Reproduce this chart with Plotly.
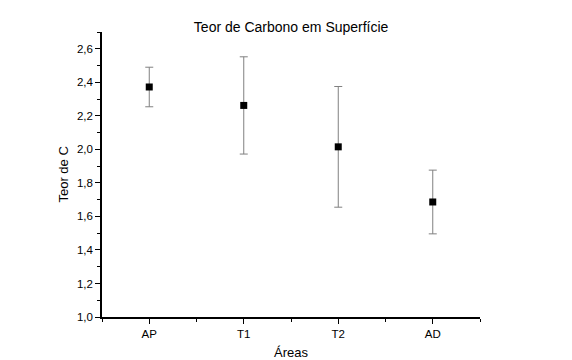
import plotly.graph_objects as go

categories = ["AP", "T1", "T2", "AD"]
teor_c = [2.372, 2.262, 2.015, 1.686]
erro = [0.118, 0.290, 0.360, 0.190]

x_pos = list(range(1, len(categories) + 1))
font_family = "Liberation Sans, Arial, sans-serif"

fig = go.Figure()
fig.add_trace(go.Scatter(
    x=x_pos, y=teor_c, mode="markers",
    marker=dict(symbol="square", size=7, color="black"),
    error_y=dict(type="data", array=erro, visible=True, color="#808080", thickness=1, width=4),
    showlegend=False,
))

fig.update_layout(
    width=572, height=360,
    margin=dict(l=102, r=92, t=32, b=43, autoexpand=False),
    paper_bgcolor="white", plot_bgcolor="white",
    separators=",.",
    font=dict(family=font_family, size=11, color="black"),
    title=dict(text="Teor de Carbono em Superfície", x=0.509, xanchor="center", y=1 - 27 / 360, yanchor="middle",
               font=dict(size=14, family=font_family, color="black")),
    xaxis=dict(
        range=[0.5, 4.5], tickvals=x_pos, ticktext=categories, automargin=False,
        showline=True, linecolor="black", linewidth=1.5, mirror=False,
        showgrid=False, zeroline=False,
        ticks="outside", ticklen=5, tickcolor="black", tickwidth=1,
        minor=dict(tickvals=[0.5, 1.5, 2.5, 3.5, 4.5], ticks="outside", ticklen=3, tickcolor="black", showgrid=False),
        title=dict(text="Áreas", font=dict(size=13, family=font_family)),
        tickfont=dict(size=11.5),
    ),
    yaxis=dict(
        range=[1.0, 2.7], tickvals=[1.0, 1.2, 1.4, 1.6, 1.8, 2.0, 2.2, 2.4, 2.6], tickformat=".1f", automargin=False,
        showline=True, linecolor="black", linewidth=1.5, mirror=False,
        showgrid=False, zeroline=False,
        ticks="outside", ticklen=5, tickcolor="black", tickwidth=1,
        minor=dict(tickvals=[1.1, 1.3, 1.5, 1.7, 1.9, 2.1, 2.3, 2.5, 2.7], ticks="outside", ticklen=3, tickcolor="black", showgrid=False),
        tickfont=dict(size=11.5),
    ),
    annotations=[dict(
        text="Teor de C", xref="paper", yref="paper", x=-0.103, y=0.5,
        xanchor="center", yanchor="middle", textangle=-90, showarrow=False,
        font=dict(size=13, family=font_family, color="black"),
    )],
)

fig.write_html("out.html", post_script="document.body.style.margin='0';",
               config={"displayModeBar": False})
